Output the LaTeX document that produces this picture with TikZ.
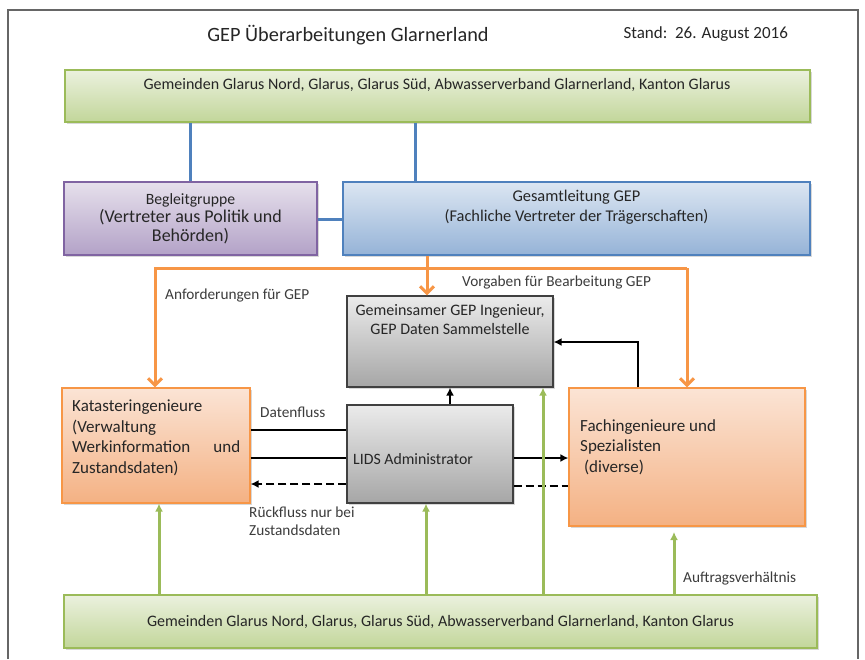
\documentclass[tikz,border=0pt]{standalone}
\usepackage{fontspec}
\setmainfont{Carlito}
\usetikzlibrary{arrows.meta,shadows}
\definecolor{gln}{HTML}{9BBB59}
\definecolor{gtopc}{HTML}{EBF1DE}
\definecolor{gbotc}{HTML}{C2D69A}
\definecolor{pln}{HTML}{8064A2}
\definecolor{ptopc}{HTML}{E6E0EC}
\definecolor{pbotc}{HTML}{B3A2C7}
\definecolor{bln}{HTML}{4F81BD}
\definecolor{btopc}{HTML}{DCE6F2}
\definecolor{bbotc}{HTML}{95B3D7}
\definecolor{oln}{HTML}{F79646}
\definecolor{otopc}{HTML}{FBE4D5}
\definecolor{obotc}{HTML}{F4B183}
\definecolor{grln}{HTML}{404040}
\definecolor{grtopc}{HTML}{EBEBEB}
\definecolor{grbotc}{HTML}{A6A6A6}
\definecolor{txt}{HTML}{262626}
\begin{document}
\begin{tikzpicture}[x=1pt,y=-1pt,
  every node/.style={font=\fontsize{16}{19}\selectfont, text=txt},
  basebox/.style={rectangle, draw, line width=1.2pt, inner sep=0pt,
    drop shadow={opacity=0.3, shadow xshift=1.5pt, shadow yshift=-2pt}},
  greenbox/.style={basebox, draw=gln, top color=gtopc, bottom color=gbotc},
  purplebox/.style={basebox, draw=pln, top color=ptopc, bottom color=pbotc},
  bluebox/.style={basebox, draw=bln, top color=btopc, bottom color=bbotc},
  orangebox/.style={basebox, draw=oln, top color=otopc, bottom color=obotc},
  graybox/.style={basebox, draw=grln, top color=grtopc, bottom color=grbotc},
  bconn/.style={draw=bln, line width=3pt},
  oconn/.style={draw=oln, line width=3pt, -{Straight Barb[length=7pt,width=14pt,line width=3pt]}},
  kconn/.style={draw=black, line width=2.5pt},
  karrow/.style={kconn, -{Latex[length=8pt,width=8pt]}},
  gconn/.style={draw=gln, line width=3pt, -{Latex[length=8pt,width=8pt]}},
  lbl/.style={anchor=west, inner sep=0pt, font=\fontsize{15.3}{18}\selectfont, text=txt!90}
]
\useasboundingbox (0,0) rectangle (865,659);
\fill[white] (0,0) rectangle (865,659);
% frame
\draw[gray!80!black, line width=1.3pt] (8,659) -- (8,10) -- (858,10) -- (858,659);

% title
\node[font=\fontsize{20.3}{24}\selectfont] (title) at (348,35) {GEP Überarbeitungen Glarnerland};
\node[anchor=west, font=\fontsize{17}{20}\selectfont] (stand) at (620,34) {Stand:\ \ 26. August 2016};

% boxes
\node[greenbox, minimum width=745pt, minimum height=52pt] (gtop) at (437.5,96) {};
\node (gtoptext) at (437,85) {Gemeinden Glarus Nord, Glarus, Glarus Süd, Abwasserverband Glarnerland, Kanton Glarus};

\node[purplebox, minimum width=253pt, minimum height=73pt, align=center] (begl) at (190.5,218.5)
  {{\fontsize{15.7}{20}\selectfont Begleitgruppe}\\[-1pt]{\fontsize{18}{20}\selectfont (Vertreter aus Politik und}\\{\fontsize{18}{20}\selectfont Behörden)}};

\node[bluebox, minimum width=467pt, minimum height=73pt] (gesamt) at (576.5,218.5) {};
\node[align=center, font=\fontsize{16.4}{19.5}\selectfont] (gesamttext) at (576.5,207)
  {Gesamtleitung GEP\\(Fachliche Vertreter der Trägerschaften)};

\node[graybox, minimum width=206pt, minimum height=91pt] (gemein) at (450,341.5) {};
\node[align=center, font=\fontsize{16}{19}\selectfont] (gemeintext) at (450,320)
  {Gemeinsamer GEP Ingenieur,\\GEP Daten Sammelstelle};

\node[graybox, minimum width=166pt, minimum height=98pt] (lids) at (430,454) {};
\node[anchor=west, inner sep=0pt, font=\fontsize{15.8}{19}\selectfont] (lidstext) at (353,459) {LIDS Administrator};

\node[orangebox, minimum width=188pt, minimum height=115pt] (katast) at (156,445.5) {};
\node[anchor=north west, inner sep=0pt, align=left, font=\fontsize{17}{20.5}\selectfont] (katasttext) at (72,400)
  {Katasteringenieure\\(Verwaltung\\\makebox[168pt][s]{Werkinformation und}\\Zustandsdaten)};

\node[orangebox, minimum width=236pt, minimum height=138pt] (fach) at (687,457) {};
\node[anchor=north west, inner sep=0pt, align=left, font=\fontsize{17}{20.5}\selectfont] (fachtext) at (580,419)
  {Fachingenieure und\\Spezialisten\\\ (diverse)};

\node[greenbox, minimum width=753pt, minimum height=53pt] (gbot) at (440.5,621.5) {Gemeinden Glarus Nord, Glarus, Glarus Süd, Abwasserverband Glarnerland, Kanton Glarus};

% blue connectors
\coordinate (bx1) at (190,0);
\coordinate (bx2) at (415,0);
\draw[bconn] (bx1 |- gtop.south) -- (bx1 |- begl.north);
\draw[bconn] (bx2 |- gtop.south) -- (bx2 |- gesamt.north);
\draw[bconn] ([yshift=-0.5pt]begl.east) -- ([yshift=-0.5pt]gesamt.west);

% orange connectors
\coordinate (obus) at (0,268);
\coordinate (ox) at (427,0);
\coordinate (okx) at (155,0);
\draw[oconn] (ox |- gesamt.south) -- (ox |- gemein.north);
\draw[oconn] (fach.north |- obus) -- (okx |- obus) -- (okx |- katast.north);
\draw[oconn] (fach.north |- obus) -- (fach.north);

% black connectors
\coordinate (kb) at (638,342);
\draw[karrow] (kb |- fach.north) -- (kb) -- (kb -| gemein.east);
\draw[karrow] (gemein.south |- lids.north) -- (gemein.south);
\coordinate (ky1) at (0,430);
\coordinate (ky2) at (0,458);
\coordinate (ky3) at (0,484);
\coordinate (ky4) at (0,486);
\draw[kconn] (katast.east |- ky1) -- (lids.west |- ky1);
\draw[kconn] (katast.east |- ky2) -- (lids.west |- ky2);
\draw[karrow, dash pattern=on 8pt off 4pt] (lids.west |- ky3) -- (katast.east |- ky3);
\draw[karrow] (lids.east |- ky2) -- (fach.west |- ky2);
\draw[kconn, dash pattern=on 8pt off 4pt] (lids.east |- ky4) -- (fach.west |- ky4);

% green connectors
\coordinate (gx1) at (159,0);
\coordinate (gx2) at (426,0);
\coordinate (gx3) at (543,0);
\coordinate (gx4) at (674,0);
\coordinate (gend) at (674,532);
\draw[gconn] (gx1 |- gbot.north) -- (gx1 |- katast.south);
\draw[gconn] (gx2 |- gbot.north) -- (gx2 |- lids.south);
\draw[gconn] (gx3 |- gbot.north) -- (gx3 |- gemein.south);
\draw[gconn] (gx4 |- gbot.north) -- (gend);

% labels
\node[lbl] (l1) at (165,295) {Anforderungen für GEP};
\node[lbl] (l2) at (462,282) {Vorgaben für Bearbeitung GEP};
\node[lbl] (l3) at (260,412) {Datenfluss};
\node[lbl, anchor=north west, align=left, font=\fontsize{15.3}{17.5}\selectfont] (l4) at (249,507) {Rückfluss nur bei\\Zustandsdaten};
\node[lbl] (l5) at (683,578) {Auftragsverhältnis};
\end{tikzpicture}
\end{document}
